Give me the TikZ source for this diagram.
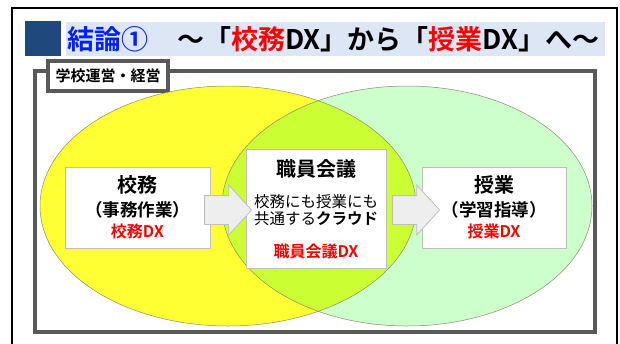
\documentclass[tikz,border=0pt]{standalone}
\usepackage{fontspec}
\setmainfont{Noto Sans CJK JP}[BoldFont={Noto Sans CJK JP Bold}]
\usetikzlibrary{calc,shapes.arrows}
\definecolor{titleblue}{RGB}{0,32,255}
\definecolor{sqblue}{RGB}{31,73,125}
\definecolor{bandblue}{RGB}{220,230,245}
\definecolor{dxred}{RGB}{255,0,0}
\definecolor{yel}{RGB}{255,255,51}
\definecolor{grn}{RGB}{204,255,204}
\definecolor{limec}{RGB}{204,255,51}
\definecolor{framegray}{RGB}{89,89,89}
\definecolor{boxgray}{RGB}{191,191,191}
\definecolor{arrowfill}{RGB}{238,238,238}
\definecolor{ellline}{RGB}{140,140,110}
\tikzset{
  wbox/.style={draw=boxgray, line width=0.8pt, fill=white, inner sep=0pt},
  txt/.style={inner sep=0pt, anchor=center},
  blockarrow/.style={single arrow, draw=boxgray, line width=0.8pt, fill=arrowfill,
    minimum height=47pt, inner xsep=5pt, inner ysep=14pt,
    single arrow head extend=10.5pt, single arrow tip angle=95},
  ellline/.style={draw=ellline, line width=0.5pt},
  headbig/.style={font=\fontsize{20}{20}\selectfont\bfseries},
  headmid/.style={font=\fontsize{17.5}{17.5}\selectfont\bfseries},
  reddx/.style={font=\fontsize{16}{16}\selectfont\bfseries, text=dxred},
  bodytxt/.style={font=\fontsize{15.5}{15.5}\selectfont},
}
\begin{document}
\begin{tikzpicture}[x=1pt,y=-1pt]
\useasboundingbox (0,0) rectangle (620,343);
\fill[white] (0,0) rectangle (620,343);
% outer thin frame
\draw[line width=1.2pt] (12,360) -- (12,8) -- (617,8) -- (617,360);
% title
\fill[sqblue] (25,21) rectangle (61,56);
\fill[bandblue] (66,22) rectangle (605,56);
\node[txt, anchor=west, font=\fontsize{27}{27}\selectfont\bfseries, text=titleblue] (t1) at (67,39) {結論①};
\node[txt, anchor=west, font=\fontsize{27}{27}\selectfont\bfseries] (t2) at (177,39)
  {～「\textcolor{dxred}{校務}DX」から「\textcolor{dxred}{授業}DX」へ～};
% gray frame
\draw[line width=4pt, framegray] (35,71) rectangle (595,332);
\node[draw=framegray, line width=4pt, fill=white, minimum width=120pt, minimum height=30pt,
  inner sep=0pt, font=\fontsize{15}{15}\selectfont\bfseries] (lab) at (108,76) {学校運営・経営};
% ellipses
\fill[yel] (228,206) ellipse [x radius=188pt, y radius=120pt];
\fill[grn] (407,206) ellipse [x radius=185pt, y radius=120pt];
\begin{scope}
  \clip (228,206) ellipse [x radius=188pt, y radius=120pt];
  \fill[limec] (407,206) ellipse [x radius=185pt, y radius=120pt];
\end{scope}
\draw[ellline] (228,206) ellipse [x radius=188pt, y radius=120pt];
\draw[ellline] (407,206) ellipse [x radius=185pt, y radius=120pt];
% boxes
\node[wbox, minimum width=145pt, minimum height=81pt] (lbox) at (137.5,207.5) {};
\node[wbox, minimum width=140pt, minimum height=119pt] (mbox) at (316,208.5) {};
\node[wbox, minimum width=144pt, minimum height=81pt] (rbox) at (494,207.5) {};
% arrows
\node[blockarrow] (a1) at (221.5,210) {};
\node[blockarrow] (a2) at (409.5,210) {};
% left box text
\node[txt, headbig] (l1) at ($(lbox.north)+(0,18)$) {校務};
\node[txt, headmid] (l2) at ($(lbox.north)+(0,43)$) {（事務作業）};
\node[txt, reddx] (l3) at ($(lbox.north)+(0,65)$) {校務DX};
% middle box text
\node[txt, headbig] (m1) at ($(mbox.north)+(0,20)$) {職員会議};
\node[txt, bodytxt] (m2) at ($(mbox.north)+(0,53)$) {校務にも授業にも};
\node[txt, bodytxt] (m3) at ($(mbox.north)+(0,70)$) {共通する\textbf{クラウド}};
\node[txt, reddx] (m4) at ($(mbox.north)+(0,103)$) {職員会議DX};
% right box text
\node[txt, headbig] (r1) at ($(rbox.north)+(0,18)$) {授業};
\node[txt, headmid] (r2) at ($(rbox.north)+(0,43)$) {（学習指導）};
\node[txt, reddx] (r3) at ($(rbox.north)+(0,65)$) {授業DX};
\end{tikzpicture}
\end{document}
